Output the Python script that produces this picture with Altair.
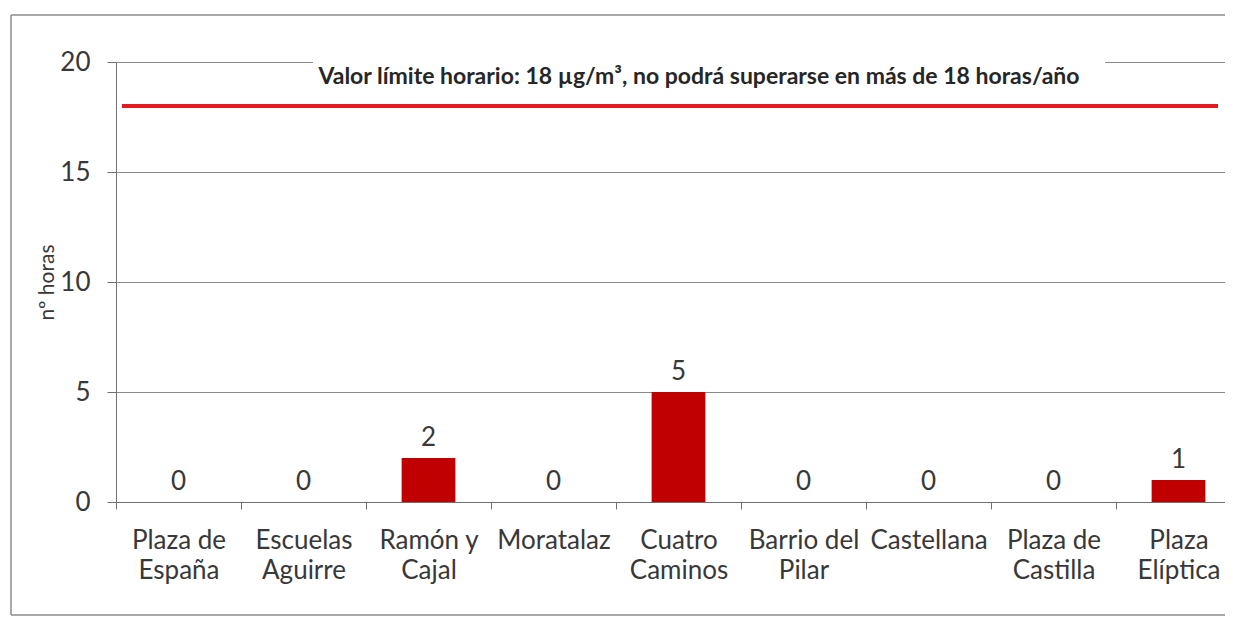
import altair as alt
import pandas as pd

categories = ["Plaza de\nEspaña", "Escuelas\nAguirre", "Ramón y\nCajal", "Moratalaz",
              "Cuatro\nCaminos", "Barrio del\nPilar", "Castellana", "Plaza de\nCastilla",
              "Plaza\nElíptica"]
hours = [0, 0, 2, 0, 5, 0, 0, 0, 1]
limit_value = [18]
annotation = ["Valor límite horario: 18 µg/m³, no podrá superarse en más de 18 horas/año"]
y_ticks = [0, 5, 10, 15, 20]

df = pd.DataFrame({"estacion": categories, "horas": hours})
df_limit = pd.DataFrame({"limite": limit_value})
df_note = pd.DataFrame({"nota": annotation})
df_one = pd.DataFrame({"k": [1]})

W, H = 1109, 440
FONT = "Lato"
TXT = "#383838"
FRAME = "#8c8c8c"

x_enc = alt.X(
    "estacion:N", sort=categories, title=None,
    scale=alt.Scale(paddingInner=0, paddingOuter=0, range=[0, 1125]),
    axis=alt.Axis(
        labelExpr="split(datum.label, '\\n')", labelAngle=0, labelFontSize=26,
        labelLineHeight=30, labelColor=TXT, labelFont=FONT, tickBand="extent",
        tickSize=7, labelPadding=18, domainColor="#6f6f6f", tickColor="#6f6f6f",
        labelOverlap=False, labelBound=False, grid=False, labelBaseline="top"),
)
y_enc = alt.Y(
    "horas:Q", title="nº horas",
    scale=alt.Scale(domain=[0, 20], nice=False),
    axis=alt.Axis(
        values=y_ticks, labelFontSize=26, labelFont=FONT, labelColor=TXT,
        tickSize=9, labelPadding=17, domainColor="#6f6f6f", tickColor="#6f6f6f",
        gridColor="#8a8a8a", grid=True, titleFont=FONT, titleFontSize=21,
        titleFontWeight="normal", titleColor=TXT, titlePadding=2),
)

frame_left = alt.Chart(df_one).mark_rule(color=FRAME, strokeWidth=1.5).encode(
    x=alt.value(-105), y=alt.value(-47), y2=alt.value(553))
frame_top = alt.Chart(df_one).mark_rule(color=FRAME, strokeWidth=1.5).encode(
    x=alt.value(-105), x2=alt.value(W), y=alt.value(-47))
frame_bottom = alt.Chart(df_one).mark_rule(color=FRAME, strokeWidth=1.5).encode(
    x=alt.value(-105), x2=alt.value(W), y=alt.value(553))

bars = alt.Chart(df).mark_bar(color="#c00000", width=alt.RelativeBandSize(0.43)).encode(
    x=x_enc, y=y_enc)

values = alt.Chart(df).mark_text(baseline="alphabetic", dy=-12, fontSize=26, font=FONT,
                                 color=TXT).encode(
    x=alt.X("estacion:N", sort=categories), y=alt.Y("horas:Q"), text="horas:Q")

limit = alt.Chart(df_limit).mark_rule(color="#e3191f", strokeWidth=4).encode(
    y=alt.Y("limite:Q"), x=alt.value(6), x2=alt.value(1102))

note_box = alt.Chart(df_one).mark_rect(fill="white").encode(
    x=alt.value(197), x2=alt.value(989), y=alt.value(-5), y2=alt.value(5))

note = alt.Chart(df_note).mark_text(font=FONT, fontWeight="bold", fontSize=23,
                                    color="#262626", baseline="middle").encode(
    x=alt.value(583), y=alt.value(15), text="nota:N")

chart = alt.layer(frame_left, frame_top, frame_bottom, bars, values, limit,
                  note_box, note).properties(
    width=W, height=H,
    autosize=alt.AutoSizeParams(type="none"),
    padding={"left": 108, "top": 54, "right": 0, "bottom": 114},
    background="white",
).configure_view(stroke=None)

chart.save("out.html", embed_options={"renderer": "svg", "actions": False})
